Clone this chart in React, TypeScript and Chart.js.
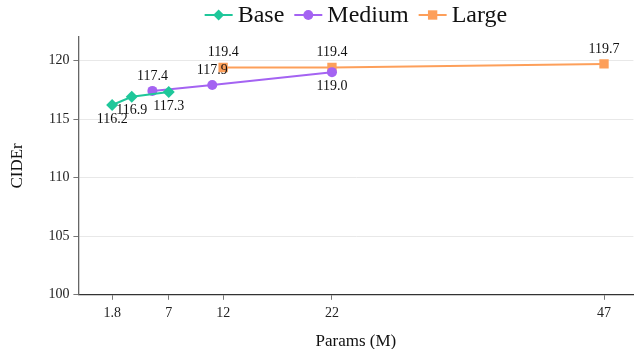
import React, { useEffect, useRef } from "react";
import { Chart, registerables } from "chart.js";

Chart.register(...registerables);

const baseX = [1.8, 3.6, 7];
const baseY = [116.2, 116.9, 117.3];
const baseLabelPos = ["below", "below", "below"];
const mediumX = [5.5, 11, 22];
const mediumY = [117.4, 117.9, 119.0];
const mediumLabelPos = ["above", "above", "below"];
const largeX = [12, 22, 47];
const largeY = [119.4, 119.4, 119.7];
const largeLabelPos = ["above", "above", "above"];
const xTicks = [1.8, 7, 12, 22, 47];
const yTicks = [100, 105, 110, 115, 120];
const seriesNames = ["Base", "Medium", "Large"];

const COLORS = ["#1fc79a", "#a463f2", "#fd9f5a"];
const STYLES = ["rectRot", "circle", "rect"];
const RADII = [6, 5, 6.6];
const FONT = "'Liberation Serif', 'Times New Roman', serif";

function drawMarker(ctx: CanvasRenderingContext2D, style: string, cx: number, cy: number, r: number) {
  ctx.beginPath();
  if (style === "circle") {
    ctx.arc(cx, cy, r * 0.9, 0, Math.PI * 2);
  } else if (style === "rectRot") {
    ctx.moveTo(cx, cy - r);
    ctx.lineTo(cx + r, cy);
    ctx.lineTo(cx, cy + r);
    ctx.lineTo(cx - r, cy);
    ctx.closePath();
  } else {
    const s = r * 0.85;
    ctx.rect(cx - s, cy - s, s * 2, s * 2);
  }
  ctx.fill();
}

const labelPlugin = {
  id: "pointLabels",
  afterDatasetsDraw(chart: any) {
    const ctx = chart.ctx;
    const positions = [baseLabelPos, mediumLabelPos, largeLabelPos];
    ctx.save();
    ctx.font = `14px ${FONT}`;
    ctx.fillStyle = "#111";
    ctx.textAlign = "center";
    chart.data.datasets.forEach((ds: any, di: number) => {
      const meta = chart.getDatasetMeta(di);
      meta.data.forEach((pt: any, i: number) => {
        const v = ds.data[i].y.toFixed(1);
        if (positions[di][i] === "above") {
          ctx.textBaseline = "bottom";
          ctx.fillText(v, pt.x, pt.y - 8);
        } else {
          ctx.textBaseline = "top";
          ctx.fillText(v, pt.x, pt.y + 7);
        }
      });
    });
    ctx.restore();
  },
};

const legendPlugin = {
  id: "customLegend",
  afterDraw(chart: any) {
    const ctx = chart.ctx;
    ctx.save();
    ctx.font = `24px ${FONT}`;
    const lineW = 28;
    const gap = 5;
    const itemGap = 10;
    const widths = seriesNames.map((n) => lineW + gap + ctx.measureText(n).width);
    const total = widths.reduce((a, b) => a + b, 0) + itemGap * (seriesNames.length - 1);
    const ca = chart.chartArea;
    let x = (ca.left + ca.right) / 2 - total / 2;
    const y = 15;
    seriesNames.forEach((n, i) => {
      ctx.strokeStyle = COLORS[i];
      ctx.lineWidth = 2;
      ctx.beginPath();
      ctx.moveTo(x, y);
      ctx.lineTo(x + lineW, y);
      ctx.stroke();
      ctx.fillStyle = COLORS[i];
      drawMarker(ctx, STYLES[i], x + lineW / 2, y, 5.5);
      ctx.fillStyle = "#111";
      ctx.textAlign = "left";
      ctx.textBaseline = "middle";
      ctx.fillText(n, x + lineW + gap, y + 1);
      x += widths[i] + itemGap;
    });
    ctx.restore();
  },
};

export default function App() {
  const ref = useRef<HTMLCanvasElement>(null);
  useEffect(() => {
    if (!ref.current) return;
    const mk = (xs: number[], ys: number[]) => xs.map((x, i) => ({ x, y: ys[i] }));
    const allX = [baseX, mediumX, largeX];
    const allY = [baseY, mediumY, largeY];
    const chart = new Chart(ref.current, {
      type: "line",
      data: {
        datasets: seriesNames.map((n, i) => ({
          label: n,
          data: mk(allX[i], allY[i]),
          borderColor: COLORS[i],
          backgroundColor: COLORS[i],
          borderWidth: 2,
          pointStyle: STYLES[i] as any,
          pointRadius: RADII[i],
          pointBorderWidth: 0,
          tension: 0,
        })),
      },
      options: {
        animation: false,
        responsive: false,
        maintainAspectRatio: false,
        layout: { padding: { top: 37, right: 0, left: 0, bottom: -3 } },
        plugins: { legend: { display: false }, tooltip: { enabled: false } },
        scales: {
          x: {
            type: "linear",
            min: -1.3,
            max: 49.7,
            afterBuildTicks: (s: any) => {
              s.ticks = xTicks.map((v) => ({ value: v }));
            },
            ticks: {
              font: { family: FONT, size: 14 },
              color: "#222",
              padding: 5,
              autoSkip: false,
              maxRotation: 0,
              callback: (v: any) => String(v),
            },
            grid: { drawOnChartArea: false, drawTicks: true, tickLength: 5, tickColor: "#777" },
            border: { color: "#333", width: 1.3 },
            title: {
              display: true,
              text: "Params (M)",
              font: { family: FONT, size: 17 },
              color: "#111",
              padding: { top: 5, bottom: 0 },
            },
          },
          y: {
            min: 100,
            max: 122,
            afterBuildTicks: (s: any) => {
              s.ticks = yTicks.map((v) => ({ value: v }));
            },
            ticks: {
              font: { family: FONT, size: 14 },
              color: "#222",
              padding: 4,
            },
            grid: { color: "#e8e8e8", lineWidth: 1, drawTicks: true, tickLength: 5, tickColor: "#777" },
            border: { color: "#666", width: 1.3 },
            title: {
              display: true,
              text: "CIDEr",
              font: { family: FONT, size: 17 },
              color: "#111",
              padding: { top: 7, bottom: 17 },
            },
          },
        },
      },
      plugins: [labelPlugin, legendPlugin],
    });
    return () => chart.destroy();
  }, []);
  return (
    <div style={{ position: "absolute", left: 0, top: 0, width: 634, height: 349, overflow: "hidden", background: "#fff" }}>
      <canvas ref={ref} width={640} height={349} style={{ display: "block" }} />
    </div>
  );
}
